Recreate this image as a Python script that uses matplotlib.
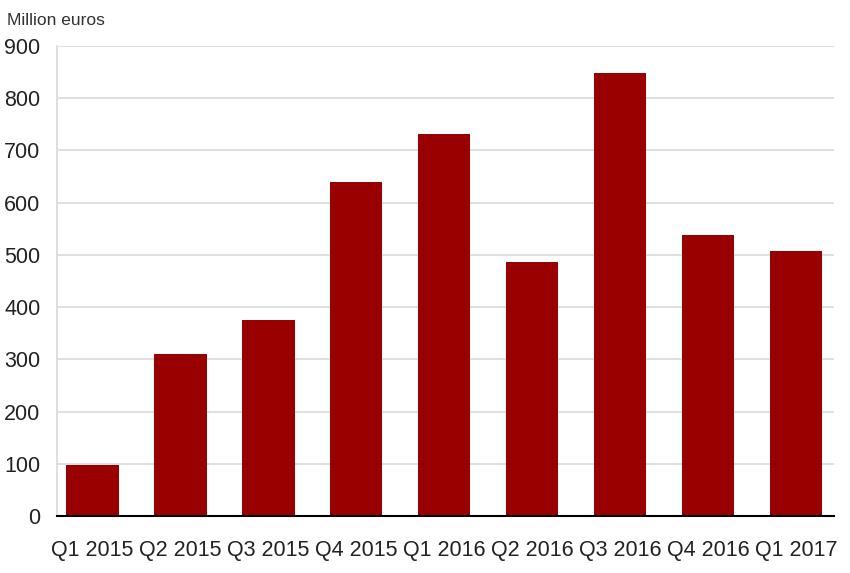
import matplotlib
matplotlib.use("Agg")
import matplotlib.pyplot as plt
import numpy as np

plt.rcParams['font.family'] = ['Liberation Sans', 'DejaVu Sans']

quarters = ["Q1 2015", "Q2 2015", "Q3 2015", "Q4 2015", "Q1 2016",
            "Q2 2016", "Q3 2016", "Q4 2016", "Q1 2017"]
values = [97, 310, 375, 640, 731, 487, 848, 537, 508]
yticks = [0, 100, 200, 300, 400, 500, 600, 700, 800, 900]

fig = plt.figure(figsize=(8.5, 5.73), dpi=100)
ax = fig.add_axes([0.067, 0.0995, 0.914, 0.8205])

x = np.arange(len(quarters))
ax.bar(x, values, width=0.60, color="#990000", zorder=3)

ax.set_xlim(-0.40, len(quarters) - 1 + 0.43)
ax.set_ylim(0, 900)
ax.set_yticks(yticks)
ax.set_xticks(x)
ax.set_xticklabels(quarters)
ax.grid(axis="y", color="#d9d9d9", linewidth=1.2, zorder=0)
ax.tick_params(axis="both", length=0, labelsize=15.5, colors="#222222")
ax.tick_params(axis="x", pad=17)
ax.tick_params(axis="y", pad=12)

for s in ["top", "right"]:
    ax.spines[s].set_visible(False)
ax.spines["left"].set_color("#d9d9d9")
ax.spines["left"].set_linewidth(1.2)
ax.spines["bottom"].set_color("black")
ax.spines["bottom"].set_linewidth(1.5)
ax.spines["bottom"].set_zorder(4)

fig.text(0.008, 0.965, "Million euros", fontsize=12.5, color="#333333", va="center")

fig.savefig("out.png", dpi=100)
